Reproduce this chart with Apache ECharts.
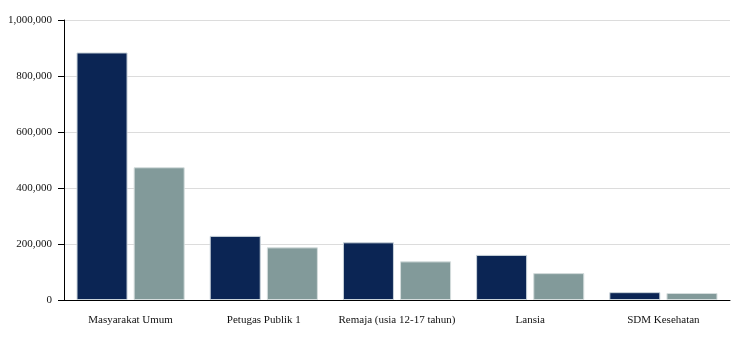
<!DOCTYPE html>
<html><head><meta charset="utf-8">
<script src="https://cdn.jsdelivr.net/npm/echarts@6/dist/echarts.min.js"></script>
<style>html,body{margin:0;padding:0;background:#fff}#c{width:750px;height:337px}</style>
</head><body><div id="c"></div>
<script>
const categories = ['Masyarakat Umum', 'Petugas Publik 1', 'Remaja (usia 12-17 tahun)', 'Lansia', 'SDM Kesehatan'];
const series1 = [884000, 229000, 206000, 161000, 28000];
const series2 = [474000, 188000, 138000, 96000, 25000];
const yTicks = [0, 200000, 400000, 600000, 800000, 1000000];

const chart = echarts.init(document.getElementById('c'));
const font = '"Liberation Serif", "DejaVu Serif", serif';
chart.setOption({
  animation: false,
  grid: { left: 64, right: 20, top: 20, bottom: 37 },
  xAxis: {
    type: 'category', data: categories,
    axisLine: { lineStyle: { color: '#000', width: 1 } },
    axisTick: { show: false },
    axisLabel: { color: '#111', fontFamily: font, fontSize: 11, margin: 15, interval: 0 }
  },
  yAxis: {
    type: 'value', min: yTicks[0], max: yTicks[yTicks.length - 1], interval: 200000,
    axisLine: { show: true, lineStyle: { color: '#000', width: 1 } },
    axisTick: { show: true, length: 6, lineStyle: { color: '#000' } },
    splitLine: { lineStyle: { color: '#dcdcdc' } },
    axisLabel: { color: '#111', fontFamily: font, fontSize: 11, margin: 12,
      formatter: v => v.toLocaleString('en-US') }
  },
  series: [
    { type: 'bar', data: series1, barWidth: '38.3%', barGap: '12%',
      itemStyle: { color: '#0b2554', borderColor: '#c9d3da', borderWidth: 1 } },
    { type: 'bar', data: series2, barWidth: '38.3%',
      itemStyle: { color: '#829a9a', borderColor: '#d5dddd', borderWidth: 1 } }
  ]
});
</script></body></html>
